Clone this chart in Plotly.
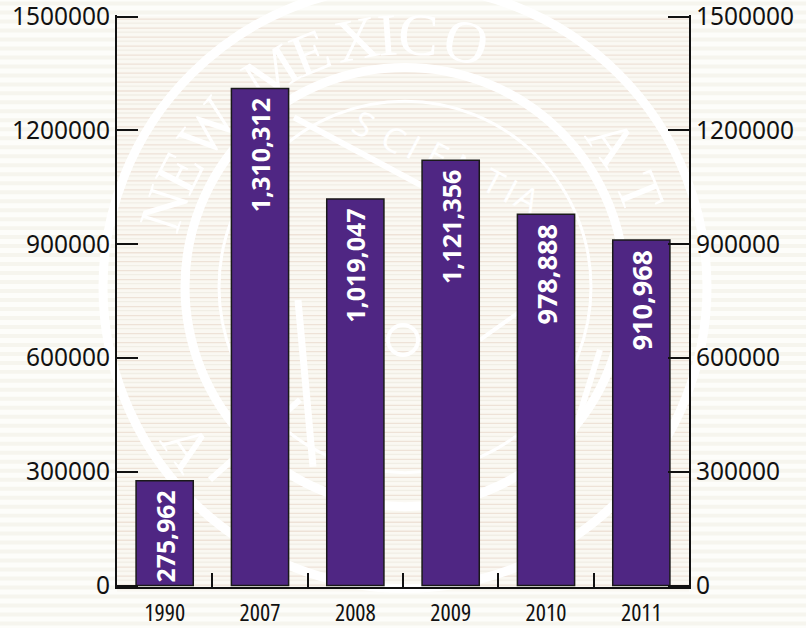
import math
import plotly.graph_objects as go

years = ["1990", "2007", "2008", "2009", "2010", "2011"]
values = [275962, 1310312, 1019047, 1121356, 978888, 910968]
labels = ["275,962", "1,310,312", "1,019,047", "1,121,356", "978,888", "910,968"]
label_sizes = [25, 25, 25, 25, 27, 27]
y_ticks = [0, 300000, 600000, 900000, 1200000, 1500000]

W, H = 806, 628
L, R = 117, 689
T0, B0 = 16, 586            # pixel rows of 1500000 and of 0
PAD = 1.5                   # keeps the end ticks from being clipped by plotly
PURPLE = "#4F2683"
units_per_px = 1500000 / (B0 - T0)
T, B = T0 - PAD, B0 + PAD

# pixel helpers for the decorative page background only
px = lambda x: (x - L) / (R - L)
py = lambda y: (B - y) / (B - T)

shapes = []
# faint horizontal stripes: pale bands on the page, denser beige lines in the plot
for y in range(1, H, 9):
    shapes.append(dict(type="rect", xref="paper", yref="paper", layer="below",
                       x0=px(0), x1=px(W), y0=py(y), y1=py(y + 4),
                       fillcolor="#f6f5ee", line_width=0))
for y in range(16, 586, 9):
    shapes.append(dict(type="rect", xref="paper", yref="paper", layer="below",
                       x0=0, x1=1, y0=py(y), y1=py(y + 9),
                       fillcolor="#faf8f2", line_width=0))
    shapes.append(dict(type="rect", xref="paper", yref="paper", layer="below",
                       x0=0, x1=1, y0=py(y + 2), y1=py(y + 3.3),
                       fillcolor="#eee2d7", line_width=0))
    shapes.append(dict(type="rect", xref="paper", yref="paper", layer="below",
                       x0=0, x1=1, y0=py(y + 6), y1=py(y + 7.3),
                       fillcolor="#f1eee5", line_width=0))

# seal watermark, rings and strokes clipped to the plot area
CX, CY = 405, 287
DOM = dict(xref="x domain", yref="y domain", layer="below")
PAPER = dict(xref="paper", yref="paper", layer="below")
def ring(cx, cy, r, w):
    return dict(type="circle", **DOM, x0=px(cx - r), x1=px(cx + r), y0=py(cy + r), y1=py(cy - r),
                line=dict(color="white", width=w), fillcolor="rgba(0,0,0,0)")
def stroke(x0, y0, x1, y1, w):
    return dict(type="line", **DOM, x0=px(x0), x1=px(x1), y0=py(y0), y1=py(y1),
                line=dict(color="white", width=w))
def glyph(ch, x, y, a, size, fam="Liberation Serif"):
    return dict(type="rect", **PAPER, x0=px(x - 30), x1=px(x + 30), y0=py(y + 30), y1=py(y - 30),
                line_width=0, fillcolor="rgba(0,0,0,0)",
                label=dict(text=ch, textangle=a, textposition="middle center",
                           font=dict(family=fam, size=size, color="white")))

shapes += [ring(CX, CY, 302, 9), ring(CX, CY, 220, 9), ring(CX, CY, 186, 3), ring(403, 340, 15, 4)]
shapes += [stroke(294, 117, 449, 200, 6), stroke(298, 300, 313, 467, 7), stroke(540, 540, 600, 350, 6),
           stroke(210, 480, 300, 400, 6), stroke(480, 340, 550, 290, 4)]

for ch, a in zip("NEWMEXICO", [-72, -63, -51, -32, -22, -11, -4, 3, 14]):
    rad = math.radians(a)
    shapes.append(glyph(ch, CX + 260 * math.sin(rad), CY - 260 * math.cos(rad), a, 60))
for ch, a in zip("AT", [55, 68]):
    rad = math.radians(a)
    shapes.append(glyph(ch, CX + 260 * math.sin(rad), CY - 260 * math.cos(rad), a, 60))
shapes.append(glyph("A", 193, 443, 55, 60))
for ch, x, y in zip("SCIENTIA", [363, 393, 413, 437, 465, 493, 510, 527],
                    [125, 140, 148, 156, 170, 183, 192, 200]):
    shapes.append(glyph(ch, x, y, 28, 34, "Open Sans"))

fig = go.Figure()
fig.add_trace(go.Bar(
    x=years, y=values, text=labels, width=0.6,
    texttemplate="%{text}\u00a0",
    marker=dict(color=PURPLE, line=dict(color="#1a1a1a", width=1.5)),
    textposition="inside", insidetextanchor="end", textangle=-90,
    textfont=dict(family="Open Sans", size=label_sizes, color="white", weight="bold"),
    cliponaxis=False, hoverinfo="skip", showlegend=False,
))
fig.add_trace(go.Scatter(x=years, y=values, yaxis="y2", mode="markers",
                         marker=dict(opacity=0), showlegend=False, hoverinfo="skip"))

y_range = [-PAD * units_per_px, 1500000 + PAD * units_per_px]
axis_y = dict(range=y_range, tickvals=y_ticks, ticks="inside", ticklen=21, tickwidth=2,
              tickcolor="#111", showline=True, linecolor="#111", linewidth=2, showgrid=False,
              zeroline=False, tickfont=dict(family="Noto Sans", size=24.5, color="#111"),
              tickformat="d", automargin=False, ticklabeloverflow="allow")
fig.update_layout(
    width=W, height=H, autosize=False,
    margin=dict(l=L, r=W - R, t=T, b=H - B),
    paper_bgcolor="#fdfdfa", plot_bgcolor="rgba(0,0,0,0)",
    xaxis=dict(type="category", range=[-0.5, 5.5], tickson="boundaries", ticks="inside",
               ticklen=14, tickwidth=2, tickcolor="#111", showline=True, linecolor="#111",
               linewidth=2, showgrid=False, automargin=False, ticklabeloverflow="allow",
               ticklabelstandoff=3,
               tickfont=dict(family="Open Sans", size=24, color="#111")),
    yaxis=axis_y,
    yaxis2=dict(axis_y, overlaying="y", side="right"),
    shapes=shapes, bargap=0.4,
)
fig.write_html("out.html", config={"displayModeBar": False}, post_script=(
    "document.body.style.margin='0';"
    "var s=document.createElement('style');"
    "s.textContent='.xtick text{font-stretch:75%}';document.head.appendChild(s);"
))
